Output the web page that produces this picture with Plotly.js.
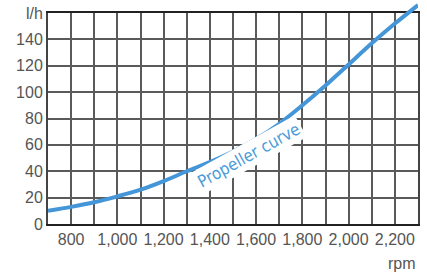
<!DOCTYPE html>
<html>
<head>
<meta charset="utf-8">
<script src="https://cdn.plot.ly/plotly-3.0.1.min.js"></script>
<style>html,body{margin:0;padding:0;background:#fff;}#chart{width:427px;height:274px;}</style>
</head>
<body>
<div id="chart"></div>
<script>
// Data
const rpm = [700, 800, 900, 1000, 1100, 1200, 1300, 1400, 1500, 1600, 1700, 1800, 1900, 2000, 2100, 2200, 2300];
const fuel = [10, 13, 16.5, 21, 26, 32.5, 40, 47, 55, 64.5, 76, 90, 105, 121, 137, 152, 166];
const xGridVals = [700, 800, 900, 1000, 1100, 1200, 1300, 1400, 1500, 1600, 1700, 1800, 1900, 2000, 2100, 2200, 2300];
const xTickText = ['', '800', '', '1,000', '', '1,200', '', '1,400', '', '1,600', '', '1,800', '', '2,000', '', '2,200', ''];
const yTickVals = [0, 20, 40, 60, 80, 100, 120, 140, 160];
const yTickText = ['0', '20', '40', '60', '80', '100', '120', '140', 'l/h'];
const curveLabel = 'Propeller curve';
const xUnit = 'rpm';
const labelPos = {x: 1569, y: 52.0};

const gridTop = 211 / 221;
const gridColor = '#5a5a5a';
const tickFont = {family: 'Liberation Sans, Arial, sans-serif', size: 16, color: '#555'};

// choose a condensed face for the curve label and size it to the reference length (~116px)
const labelFamily = '"Liberation Sans Narrow", "DejaVu Sans Condensed", "Liberation Sans", Arial, sans-serif';
const cv = document.createElement('canvas').getContext('2d');
cv.font = '20px ' + labelFamily;
const w20 = cv.measureText(curveLabel).width;
const labelSize = Math.max(14, Math.min(22, 20 * 114 / w20));

const trace = {
  x: rpm, y: fuel, type: 'scatter', mode: 'lines',
  line: {color: '#4496d8', width: 4, shape: 'spline', smoothing: 0.8},
  xaxis: 'x2', yaxis: 'y2', hoverinfo: 'skip'
};

const layout = {
  width: 427, height: 274,
  margin: {l: 48, r: 9, t: 3, b: 50},
  paper_bgcolor: '#fff', plot_bgcolor: 'rgba(0,0,0,0)',
  showlegend: false,
  xaxis: {
    range: [700, 2300], anchor: 'y', domain: [0, 1],
    tickmode: 'array', tickvals: xGridVals, ticktext: xTickText,
    ticks: '', tickfont: tickFont,
    showgrid: true, gridcolor: gridColor, gridwidth: 2,
    showline: true, mirror: true, linecolor: '#222', linewidth: 2,
    zeroline: false, fixedrange: true
  },
  yaxis: {
    range: [0, 160], domain: [0, gridTop], anchor: 'x',
    tickmode: 'array', tickvals: yTickVals, ticktext: yTickText,
    ticks: '', tickfont: tickFont,
    showgrid: true, gridcolor: gridColor, gridwidth: 2,
    showline: true, mirror: true, linecolor: '#444', linewidth: 2,
    zeroline: false, fixedrange: true
  },
  xaxis2: {range: [700, 2300], domain: [0, 1], anchor: 'y2', visible: false, fixedrange: true},
  yaxis2: {range: [0, 160 / gridTop], domain: [0, 1], anchor: 'x2', visible: false, fixedrange: true},
  annotations: [
    {
      x: labelPos.x, y: labelPos.y, xref: 'x', yref: 'y',
      text: curveLabel, showarrow: false, textangle: -29,
      font: {family: labelFamily, size: labelSize, color: '#4a9bd9'},
      bgcolor: '#fff', borderpad: 2
    },
    {
      x: 1, y: -0.1765, xref: 'paper', yref: 'paper',
      xanchor: 'right', yanchor: 'middle',
      text: xUnit, showarrow: false, font: tickFont
    }
  ]
};

Plotly.newPlot('chart', [trace], layout, {staticPlot: true, displayModeBar: false});
</script>
</body>
</html>
